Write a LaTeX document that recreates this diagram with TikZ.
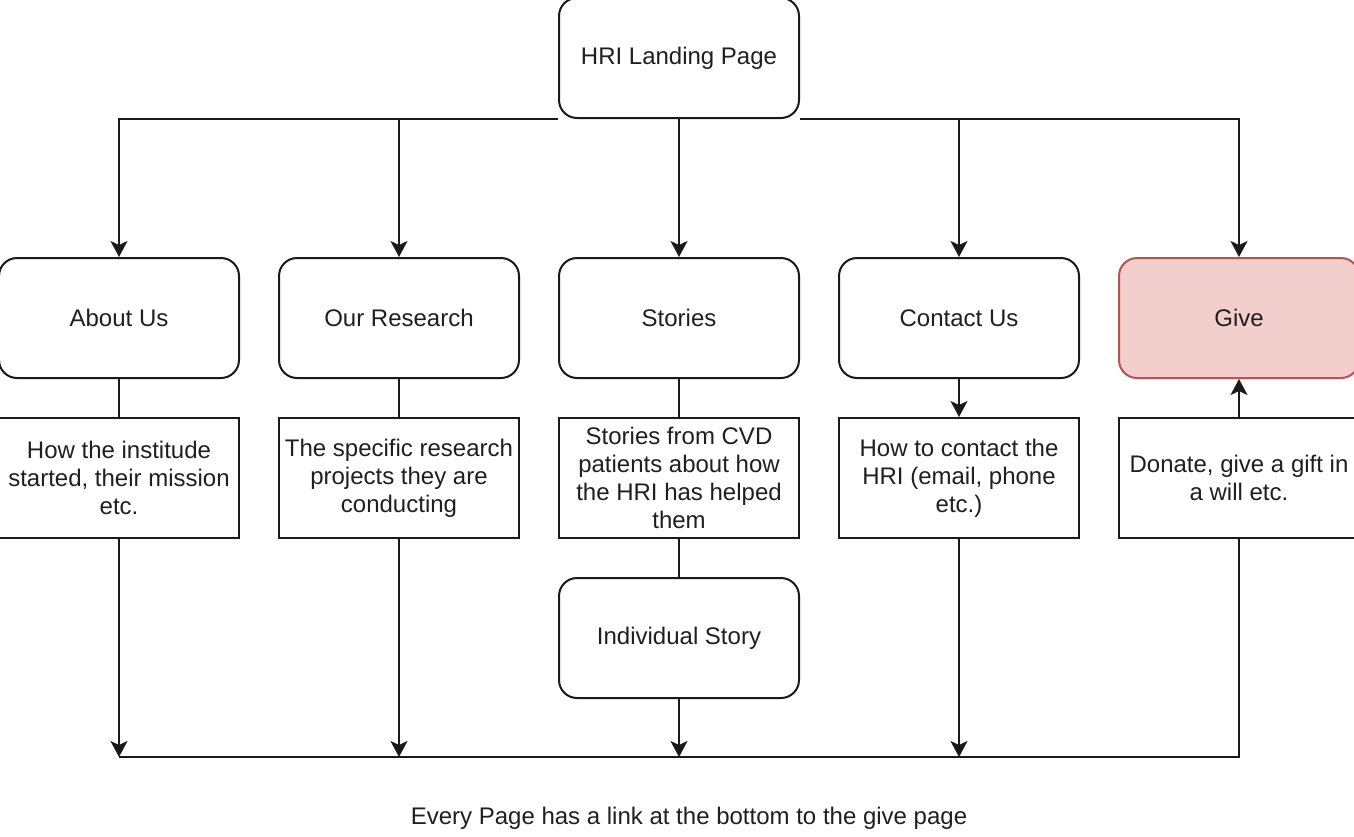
\documentclass[tikz,border=0pt]{standalone}
\usepackage{fontspec}
\setmainfont{Liberation Sans}
\usetikzlibrary{arrows.meta}
\definecolor{linegray}{HTML}{1A1A1A}
\definecolor{textgray}{HTML}{1F1F1F}
\definecolor{givefill}{HTML}{F2CFCD}
\definecolor{givedraw}{HTML}{B85450}
\tikzset{
  pagebox/.style={draw=linegray, line width=2pt, rounded corners=18pt,
    minimum width=240pt, minimum height=120pt, align=center,
    font=\fontsize{24}{28}\selectfont, text=textgray, inner sep=0pt},
  infobox/.style={draw=linegray, line width=2pt,
    minimum width=240pt, minimum height=120pt, align=center,
    font=\fontsize{24}{28}\selectfont, text=textgray, inner sep=0pt},
  givebox/.style={pagebox, fill=givefill, draw=givedraw},
  link/.style={draw=linegray, line width=2pt},
  arr/.style={link, -{Stealth[length=16pt, width=17pt, inset=4pt]}},
}
\begin{document}
\begin{tikzpicture}[x=1pt, y=-1pt]
  \useasboundingbox (0,0) rectangle (1354,836);

  % top level page
  \node[pagebox] (land) at (679,58) {HRI Landing Page};

  % main section pages
  \node[pagebox] (about)    at (119,318)  {About Us};
  \node[pagebox] (research) at (399,318)  {Our Research};
  \node[pagebox] (stories)  at (679,318)  {Stories};
  \node[pagebox] (contact)  at (959,318)  {Contact Us};
  \node[givebox] (give)     at (1239,318) {Give};

  % descriptions of each section
  \node[infobox] (aboutd)    at (119,478)  {How the institude\\started, their mission\\etc.};
  \node[infobox] (researchd) at (399,478)  {The specific research\\projects they are\\conducting};
  \node[infobox] (storiesd)  at (679,478)  {Stories from CVD\\patients about how\\the HRI has helped\\them};
  \node[infobox] (contactd)  at (959,478)  {How to contact the\\HRI (email, phone\\etc.)};
  \node[infobox] (gived)     at (1239,478) {Donate, give a gift in\\a will etc.};

  \node[pagebox] (story) at (679,638) {Individual Story};

  % footer line
  \coordinate (bl) at (119,757);
  \coordinate (br) at (1239,757);
  \node[font=\fontsize{24}{28}\selectfont, text=textgray] (note) at (689,818)
    {Every Page has a link at the bottom to the give page};

  % landing page to sections
  \draw[arr] (land.south west) -| (about.north);
  \draw[arr] (land.south west) -| (research.north);
  \draw[arr] (land.south) -- (stories.north);
  \draw[arr] (land.south east) -| (contact.north);
  \draw[arr] (land.south east) -| (give.north);

  % sections to descriptions
  \draw[link] (about.south) -- (aboutd.north);
  \draw[link] (research.south) -- (researchd.north);
  \draw[link] (stories.south) -- (storiesd.north);
  \draw[arr] (contact.south) -- (contactd.north);
  \draw[arr] (gived.north) -- (give.south);
  \draw[link] (storiesd.south) -- (story.north);

  % every page links to the give page
  \draw[link] (gived.south) |- (bl);
  \draw[arr] (aboutd.south) -- (aboutd.south |- bl);
  \draw[arr] (researchd.south) -- (researchd.south |- bl);
  \draw[arr] (story.south) -- (story.south |- bl);
  \draw[arr] (contactd.south) -- (contactd.south |- bl);
\end{tikzpicture}
\end{document}
